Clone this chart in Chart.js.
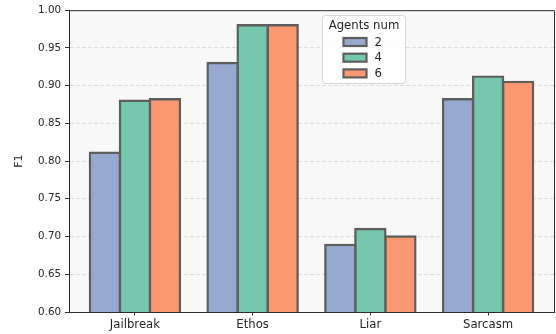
<!DOCTYPE html>
<html>
<head>
<meta charset="utf-8">
<script src="https://cdn.jsdelivr.net/npm/chart.js@4/dist/chart.umd.min.js"></script>
<style>
  html, body { margin: 0; padding: 0; background: #ffffff; }
  #wrap { width: 556px; height: 334px; }
</style>
</head>
<body>
<div id="wrap"><canvas id="chart" width="556" height="334"></canvas></div>
<script>
// F1 scores per dataset, grouped by number of agents
const categories = ['Jailbreak', 'Ethos', 'Liar', 'Sarcasm'];
const agentCounts = ['2', '4', '6'];
const f1Agents2 = [0.811, 0.930, 0.689, 0.882];
const f1Agents4 = [0.880, 0.980, 0.710, 0.912];
const f1Agents6 = [0.882, 0.980, 0.700, 0.905];
const yTickValues = [0.60, 0.65, 0.70, 0.75, 0.80, 0.85, 0.90, 0.95, 1.00];

const seriesValues = [f1Agents2, f1Agents4, f1Agents6];
const fillColors = ['#98a9cf', '#75c7ad', '#fb9871'];
const edgeColor = '#5e5e5e';
const FONT = '"DejaVu Sans", sans-serif';

const datasets = agentCounts.map((label, s) => ({
  label,
  data: seriesValues[s].map((v, i) => ({ x: i, y: v })),
  backgroundColor: fillColors[s],
  borderColor: edgeColor,
  borderWidth: 2.4,
  borderSkipped: false,
  inflateAmount: 1.2,
  categoryPercentage: 0.765,
  barPercentage: 1.0
}));

// light plot background plus the top/right frame lines
const plotFrame = {
  id: 'plotFrame',
  beforeDraw(chart) {
    const { ctx, chartArea: a } = chart;
    ctx.save();
    ctx.fillStyle = '#f8f8f8';
    ctx.fillRect(a.left, a.top, a.right - a.left, a.bottom - a.top);
    ctx.restore();
  },
  afterDraw(chart) {
    const { ctx, chartArea: a } = chart;
    ctx.save();
    ctx.strokeStyle = '#2b2b2b';
    ctx.lineWidth = 1;
    ctx.beginPath();
    ctx.moveTo(a.left, a.top + 0.5);
    ctx.lineTo(a.right + 0.5, a.top + 0.5);
    ctx.lineTo(a.right + 0.5, a.bottom);
    ctx.stroke();
    ctx.restore();
  }
};

// legend box with title, drawn inside the plot area
const insideLegend = {
  id: 'insideLegend',
  afterDraw(chart) {
    const ctx = chart.ctx;
    const bx = 322.5, by = 15.5, bw = 83, bh = 68;
    ctx.save();
    ctx.beginPath();
    ctx.roundRect(bx, by, bw, bh, 3);
    ctx.fillStyle = 'rgba(255,255,255,0.85)';
    ctx.fill();
    ctx.strokeStyle = '#d4d4d4';
    ctx.lineWidth = 1;
    ctx.stroke();

    ctx.fillStyle = '#262626';
    ctx.font = '11.7px ' + FONT;
    ctx.textAlign = 'center';
    ctx.textBaseline = 'middle';
    ctx.fillText('Agents num', bx + bw / 2, 26);

    chart.data.datasets.forEach((ds, i) => {
      const cy = 42 + i * 15.7;
      ctx.fillStyle = ds.backgroundColor;
      ctx.fillRect(343.5, cy - 4, 23, 8);
      ctx.strokeStyle = edgeColor;
      ctx.lineWidth = 2.2;
      ctx.strokeRect(343.5, cy - 4, 23, 8);
      ctx.fillStyle = '#262626';
      ctx.textAlign = 'left';
      ctx.fillText(ds.label, 374.5, cy + 0.5);
    });
    ctx.restore();
  }
};

new Chart(document.getElementById('chart'), {
  type: 'bar',
  data: { datasets },
  options: {
    responsive: false,
    animation: false,
    devicePixelRatio: 1,
    layout: { padding: { top: 10, right: 2, left: 0, bottom: 0 } },
    plugins: {
      legend: { display: false },
      tooltip: { enabled: false }
    },
    scales: {
      x: {
        type: 'linear',
        min: -0.56,
        max: 3.56,
        offset: false,
        afterBuildTicks(scale) {
          scale.ticks = categories.map((_, i) => ({ value: i }));
        },
        afterFit(scale) { scale.height = 22; },
        ticks: {
          autoSkip: false,
          maxRotation: 0,
          padding: 2,
          color: '#262626',
          font: { family: FONT, size: 11.7 },
          callback: (v) => categories[v] ?? ''
        },
        grid: {
          offset: false,
          drawOnChartArea: false,
          drawTicks: true,
          tickLength: 3.5,
          tickColor: '#333333',
          tickWidth: 1
        },
        border: { display: true, color: '#2b2b2b', width: 1 }
      },
      y: {
        min: 0.6,
        max: 1.0,
        afterBuildTicks(scale) {
          scale.ticks = yTickValues.map(v => ({ value: v }));
        },
        afterFit(scale) { scale.width = 69; },
        ticks: {
          padding: 4,
          color: '#262626',
          font: { family: FONT, size: 10.3 },
          callback: (v) => Number(v).toFixed(2)
        },
        grid: {
          color: (ctx) => (ctx.tick && (ctx.tick.value <= 0.6 || ctx.tick.value >= 1.0)) ? 'rgba(0,0,0,0)' : '#dcdcdc',
          lineWidth: 1,
          drawTicks: true,
          tickLength: 4,
          tickColor: '#333333',
          tickWidth: 1,
          tickBorderDash: []
        },
        border: { display: true, color: '#2b2b2b', width: 1, dash: [4, 2] },
        title: {
          display: true,
          text: 'F1',
          color: '#262626',
          font: { family: FONT, size: 11 },
          padding: { top: 13, bottom: 0 }
        }
      }
    }
  },
  plugins: [plotFrame, insideLegend]
});
</script>
</body>
</html>
